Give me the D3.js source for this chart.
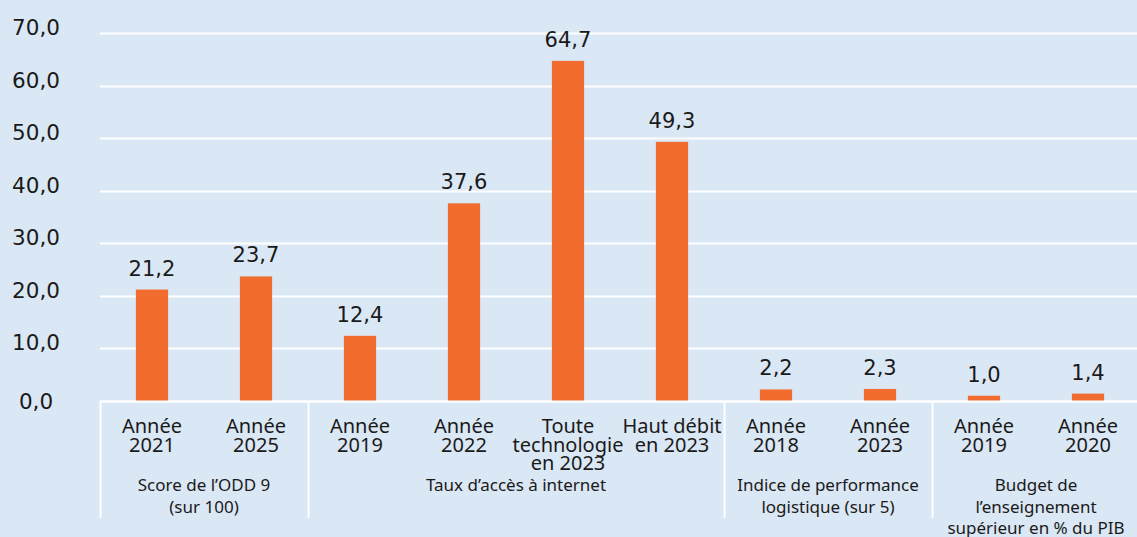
<!DOCTYPE html>
<html>
<head>
<meta charset="utf-8">
<script src="https://cdn.jsdelivr.net/npm/d3@7"></script>
<style>
  html, body { margin: 0; padding: 0; background: #dae7f4; }
  svg { display: block; }
</style>
</head>
<body>
<svg id="viz" width="1137" height="537"></svg>
<script>
// chart data
const categories = [
  ["Année", "2021"], ["Année", "2025"],
  ["Année", "2019"], ["Année", "2022"], ["Toute", "technologie", "en 2023"], ["Haut débit", "en 2023"],
  ["Année", "2018"], ["Année", "2023"],
  ["Année", "2019"], ["Année", "2020"]
];
const values = [21.2, 23.7, 12.4, 37.6, 64.7, 49.3, 2.2, 2.3, 1.0, 1.4];
const groupIndex = [0, 0, 1, 1, 1, 1, 2, 2, 3, 3];
const groups = [
  ["Score de l’ODD 9", "(sur 100)"],
  ["Taux d’accès à internet"],
  ["Indice de performance", "logistique (sur 5)"],
  ["Budget de", "l’enseignement", "supérieur en % du PIB"]
];
const yTicks = [0, 10, 20, 30, 40, 50, 60, 70];

const BG = "#dae7f4";
const BAR = "#f26c2f";
const TEXT = "#1a1a1a";
const margin = { top: 33, right: -3, bottom: 136, left: 100 };

const svg = d3.select("#viz");
const width = +svg.attr("width");
const height = +svg.attr("height");

const fr = d3.formatLocale({ decimal: ",", thousands: " ", grouping: [3], currency: ["", " €"] });
const fmt = fr.format(".1f");

svg.append("rect").attr("width", width).attr("height", height).attr("fill", BG);

const x = d3.scaleBand()
  .domain(d3.range(values.length))
  .range([margin.left, width - margin.right])
  .paddingInner(0.69)
  .paddingOuter(0.345);

const y = d3.scaleLinear()
  .domain([0, 70])
  .range([height - margin.bottom, margin.top]);

// gridlines
svg.append("g")
  .selectAll("line")
  .data(yTicks)
  .join("line")
  .attr("x1", margin.left)
  .attr("x2", width)
  .attr("y1", d => Math.round(y(d)) + 0.5)
  .attr("y2", d => Math.round(y(d)) + 0.5)
  .attr("stroke", "#fff")
  .attr("stroke-width", 2);

// y labels, centred in the left gutter
svg.append("g")
  .selectAll("text")
  .data(yTicks)
  .join("text")
  .attr("x", 36)
  .attr("y", d => y(d) + (d === 0 ? 8 : 2))
  .attr("text-anchor", "middle")
  .attr("font-family", "DejaVu Sans, sans-serif")
  .attr("font-size", 21.5)
  .attr("fill", TEXT)
  .text(d => fmt(d));

// bars
svg.append("g")
  .selectAll("rect")
  .data(values)
  .join("rect")
  .attr("x", (d, i) => x(i))
  .attr("y", d => y(d))
  .attr("width", x.bandwidth())
  .attr("height", d => y(0) - y(d))
  .attr("fill", BAR);

// value labels
svg.append("g")
  .selectAll("text")
  .data(values)
  .join("text")
  .attr("x", (d, i) => x(i) + x.bandwidth() / 2)
  .attr("y", d => y(d) - 14)
  .attr("text-anchor", "middle")
  .attr("font-family", "DejaVu Sans, sans-serif")
  .attr("font-size", 21)
  .attr("fill", TEXT)
  .text(d => fmt(d));

// axis line and group separators
const axisY = Math.round(y(0)) + 0.5;
svg.append("line")
  .attr("x1", margin.left).attr("x2", width)
  .attr("y1", axisY).attr("y2", axisY)
  .attr("stroke", "#fff").attr("stroke-width", 2);

const step = x.step();
const starts = groups.map((g, gi) => groupIndex.indexOf(gi));
const ends = groups.map((g, gi) => groupIndex.lastIndexOf(gi) + 1);
const edges = Array.from(new Set(starts.concat(ends)));

svg.append("g")
  .selectAll("line")
  .data(edges)
  .join("line")
  .attr("x1", d => Math.round(margin.left + d * step) + 0.5)
  .attr("x2", d => Math.round(margin.left + d * step) + 0.5)
  .attr("y1", axisY)
  .attr("y2", 518)
  .attr("stroke", "#fff")
  .attr("stroke-width", 2);

// category labels
const catLabels = svg.append("g")
  .selectAll("text")
  .data(categories)
  .join("text")
  .attr("x", (d, i) => x(i) + x.bandwidth() / 2)
  .attr("y", 433)
  .attr("text-anchor", "middle")
  .attr("font-family", "Noto Sans, sans-serif")
  .attr("font-size", 20)
  .attr("fill", TEXT);

catLabels.selectAll("tspan")
  .data(d => d)
  .join("tspan")
  .attr("x", function () { return d3.select(this.parentNode).attr("x"); })
  .attr("dy", (d, i) => i === 0 ? 0 : 18.5)
  .text(d => d);

// group labels
const groupLabels = svg.append("g")
  .selectAll("text")
  .data(groups)
  .join("text")
  .attr("x", (d, gi) => margin.left + (starts[gi] + ends[gi]) / 2 * step)
  .attr("y", 491)
  .attr("text-anchor", "middle")
  .attr("font-family", "Noto Sans, sans-serif")
  .attr("font-size", 17)
  .attr("fill", TEXT);

groupLabels.selectAll("tspan")
  .data(d => d)
  .join("tspan")
  .attr("x", function () { return d3.select(this.parentNode).attr("x"); })
  .attr("dy", (d, i) => i === 0 ? 0 : 21.5)
  .text(d => d);
</script>
</body>
</html>
